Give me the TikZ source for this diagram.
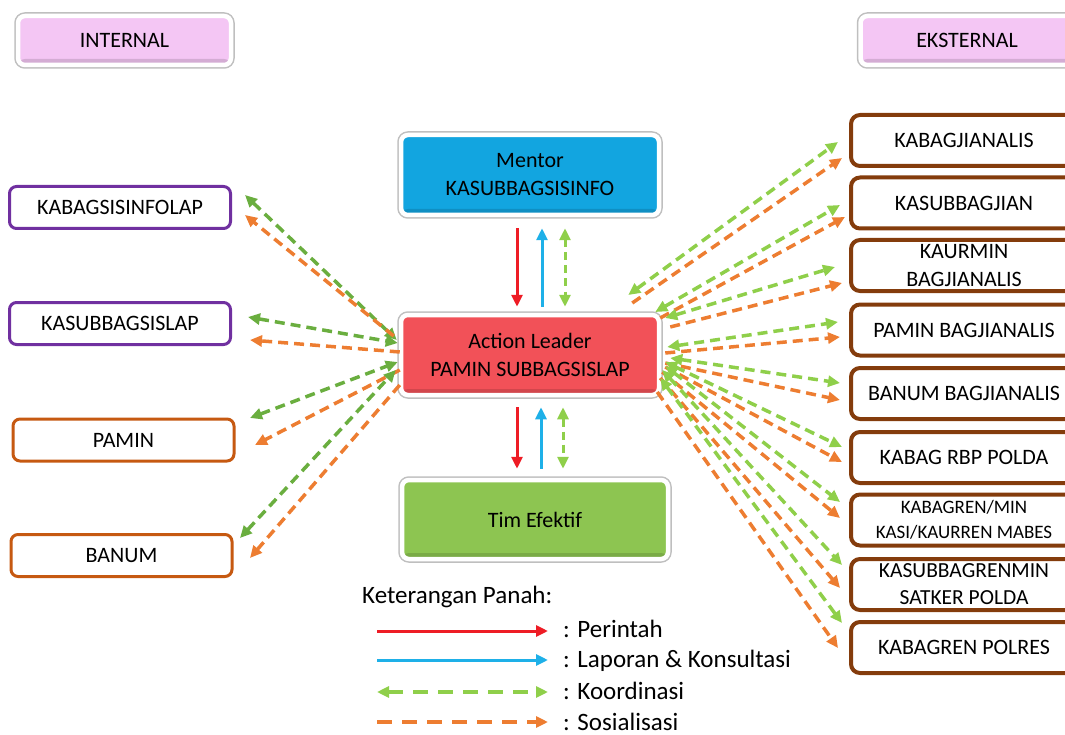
\documentclass[tikz,border=0pt]{standalone}
\usepackage{fontspec}
\setmainfont{Carlito}
\usetikzlibrary{arrows.meta}
\definecolor{pinkc}{HTML}{F4C6F4}
\definecolor{mentorc}{HTML}{12A5E0}
\definecolor{leaderc}{HTML}{F25158}
\definecolor{timc}{HTML}{8DC551}
\definecolor{purplec}{HTML}{7030A0}
\definecolor{orangebox}{HTML}{C65911}
\definecolor{brownc}{HTML}{843C0C}
\definecolor{redarrow}{HTML}{EE1C25}
\definecolor{bluearrow}{HTML}{1EB0E8}
\definecolor{greenL}{HTML}{8FCF4A}
\definecolor{greenD}{HTML}{6AAE3F}
\definecolor{orangeA}{HTML}{ED7D31}

\begin{document}
\begin{tikzpicture}[x=1pt,y=-1pt,
    >={Triangle[length=12pt,width=11pt]},
    glow/.style={draw=white, line width=4.5pt, preaction={draw=black!25, line width=7.5pt},
      rounded corners=7pt, inner sep=2pt, align=center, text=black,
      path picture={\fill[black,opacity=.13] ([yshift=6pt]path picture bounding box.south west) rectangle (path picture bounding box.south east);}},
    headbox/.style={glow, fill=pinkc, minimum width=213pt, minimum height=49pt, font=\fontsize{22}{28}\selectfont},
    corebox/.style={glow, minimum width=258pt, minimum height=80pt, font=\fontsize{22}{28}\selectfont},
    inbox/.style={draw, fill=white, line width=3pt, rounded corners=7pt, minimum width=221pt, minimum height=42pt,
      inner sep=2pt, text=black, font=\fontsize{22}{28}\selectfont},
    exbox/.style={draw=brownc, fill=white, line width=4pt, rounded corners=9pt, minimum width=226pt, minimum height=51pt,
      inner sep=1pt, align=center, text=black, font=\fontsize{22}{28}\selectfont},
    perintah/.style={draw=redarrow, line width=3pt, ->},
    laporan/.style={draw=bluearrow, line width=3pt, ->},
    koor/.style={draw=greenL, line width=3.5pt, dash pattern=on 10pt off 6pt, <->},
    koorin/.style={koor, draw=greenD},
    sosial/.style={draw=orangeA, line width=3.5pt, dash pattern=on 10pt off 6pt, ->},
    legtext/.style={anchor=base west, inner sep=0pt, text=black, font=\fontsize{25}{30}\selectfont}
  ]
  \useasboundingbox (0,0) rectangle (1065,735);
  \clip (0,0) rectangle (1065,735);

  \node[headbox] (intern) at (124.5,40.5) {INTERNAL};
  \node[headbox] (ekstern) at (967,40.5) {EKSTERNAL};

  \node[corebox, fill=mentorc] (mentor) at (530,175) {Mentor\\KASUBBAGSISINFO};
  \node[corebox, fill=leaderc] (leader) at (530,355) {Action Leader\\PAMIN SUBBAGSISLAP};
  \node[corebox, fill=timc, minimum width=266pt, minimum height=79pt] (tim) at (535,519.5) {Tim Efektif};

  \node[inbox, draw=purplec] (kbi) at (120,207.5) {KABAGSISINFOLAP};
  \node[inbox, draw=purplec] (ksl) at (120,323.5) {KASUBBAGSISLAP};
  \node[inbox, draw=orangebox] (pamin) at (123.5,440) {PAMIN};
  \node[inbox, draw=orangebox] (banum) at (121.5,555.5) {BANUM};

  \node[exbox] (kbj) at (964,140.5) {KABAGJIANALIS};
  \node[exbox] (ksbj) at (964,203) {KASUBBAGJIAN};
  \node[exbox] (kaur) at (964,265.5) {KAURMIN\\BAGJIANALIS};
  \node[exbox] (pbj) at (964,330) {PAMIN BAGJIANALIS};
  \node[exbox] (bbj) at (964,393.5) {BANUM BAGJIANALIS};
  \node[exbox] (rbp) at (964,457.5) {KABAG RBP POLDA};
  \node[exbox, font=\fontsize{19}{25}\selectfont] (kmin) at (964,520) {KABAGREN/MIN\\KASI/KAURREN MABES};
  \node[exbox, font=\fontsize{21.5}{27}\selectfont] (ksr) at (964,584.5) {KASUBBAGRENMIN\\SATKER POLDA};
  \node[exbox] (pol) at (964,647.5) {KABAGREN POLRES};

  \draw[perintah] ([shift={(-13,11)}]mentor.south) -- ([shift={(-13,-6)}]leader.north);
  \draw[laporan] ([shift={(12,-6)}]leader.north) -- ([shift={(12,11)}]mentor.south);
  \draw[koor, line width=3pt, dash pattern=on 8pt off 5pt] ([shift={(35,11)}]mentor.south) -- ([shift={(35,-6)}]leader.north);
  \draw[perintah] ([shift={(-13,10)}]leader.south) -- ([shift={(-18,-9)}]tim.north);
  \draw[laporan] ([shift={(6,-9)}]tim.north) -- ([shift={(11,10)}]leader.south);
  \draw[koor, line width=3pt, dash pattern=on 8pt off 5pt] ([shift={(33,10)}]leader.south) -- ([shift={(28,-9)}]tim.north);

  \draw[koorin] ([shift={(13,-12.5)}]kbi.east) -- ([shift={(-2,-15)}]leader.west);
  \draw[sosial] ([shift={(-5,-19)}]leader.west) -- ([shift={(13,7.5)}]kbi.east);
  \draw[koorin] ([shift={(16,-6.5)}]ksl.east) -- ([shift={(-1,-12)}]leader.west);
  \draw[sosial] ([shift={(1,-3)}]leader.west) -- ([shift={(18,16.5)}]ksl.east);
  \draw[koorin] ([shift={(14.5,-22)}]pamin.east) -- ([shift={(-1,7)}]leader.west);
  \draw[sosial] ([shift={(1,15)}]leader.west) -- ([shift={(19.5,5)}]pamin.east);
  \draw[koorin] ([shift={(6.5,-17.5)}]banum.east) -- ([shift={(-3,15)}]leader.west);
  \draw[sosial] ([shift={(1,30)}]leader.west) -- ([shift={(16.5,2.5)}]banum.east);

  \draw[koor] ([shift={(-33,-60)}]leader.east) -- ([shift={(-11,1.5)}]kbj.west);
  \draw[sosial] ([shift={(-29,-52)}]leader.east) -- ([shift={(-7,17.5)}]kbj.west);
  \draw[koor] ([shift={(-6,-43)}]leader.east) -- ([shift={(-9,2)}]ksbj.west);
  \draw[sosial] ([shift={(-1,-37)}]leader.east) -- ([shift={(-4,14)}]ksbj.west);
  \draw[koor] ([shift={(4,-37)}]leader.east) -- ([shift={(-14,1.5)}]kaur.west);
  \draw[sosial] ([shift={(9,-28)}]leader.east) -- ([shift={(-7,17.5)}]kaur.west);
  \draw[koor] ([shift={(6,-8)}]leader.east) -- ([shift={(-11,-8)}]pbj.west);
  \draw[sosial] ([shift={(4,-2)}]leader.east) -- ([shift={(-9,7)}]pbj.west);
  \draw[koor] ([shift={(9,3)}]leader.east) -- ([shift={(-9,-10.5)}]bbj.west);
  \draw[sosial] ([shift={(4,8)}]leader.east) -- ([shift={(-9,6.5)}]bbj.west);
  \draw[koor] ([shift={(4,7)}]leader.east) -- ([shift={(-7,-10.5)}]rbp.west);
  \draw[sosial] ([shift={(4,12)}]leader.east) -- ([shift={(-7,4.5)}]rbp.west);
  \draw[koor] ([shift={(4,11)}]leader.east) -- ([shift={(-9,-18)}]kmin.west);
  \draw[sosial] ([shift={(1,17)}]leader.east) -- ([shift={(-9,-2)}]kmin.west);
  \draw[koor] ([shift={(1,15)}]leader.east) -- ([shift={(-7,-19.5)}]ksr.west);
  \draw[sosial] ([shift={(-1,23)}]leader.east) -- ([shift={(-9,3.5)}]ksr.west);
  \draw[koor] ([shift={(-1,23)}]leader.east) -- ([shift={(-7,-24.5)}]pol.west);
  \draw[sosial] ([shift={(-4,37)}]leader.east) -- ([shift={(-11,0.5)}]pol.west);

  \node[legtext] (ket) at (362,603) {Keterangan Panah:};
  \node[legtext] (lp1) at (563,637) {: Perintah};
  \node[legtext] (lp2) at (563,667) {: Laporan \& Konsultasi};
  \node[legtext] (lp3) at (563,699) {: Koordinasi};
  \node[legtext] (lp4) at (563,730) {: Sosialisasi};
  \coordinate (l1) at (377,631);
  \coordinate (l2) at (377,660);
  \coordinate (l3) at (377,692);
  \coordinate (l4) at (377,722);
  \draw[perintah, shorten >=15pt] (l1) -- (l1 -| lp1.west);
  \draw[laporan, shorten >=15pt] (l2) -- (l2 -| lp2.west);
  \draw[koor, line width=4pt, dash pattern=on 15pt off 10pt, shorten >=15pt] (l3) -- (l3 -| lp3.west);
  \draw[sosial, line width=4pt, dash pattern=on 15pt off 10pt, shorten >=15pt] (l4) -- (l4 -| lp4.west);
\end{tikzpicture}
\end{document}
